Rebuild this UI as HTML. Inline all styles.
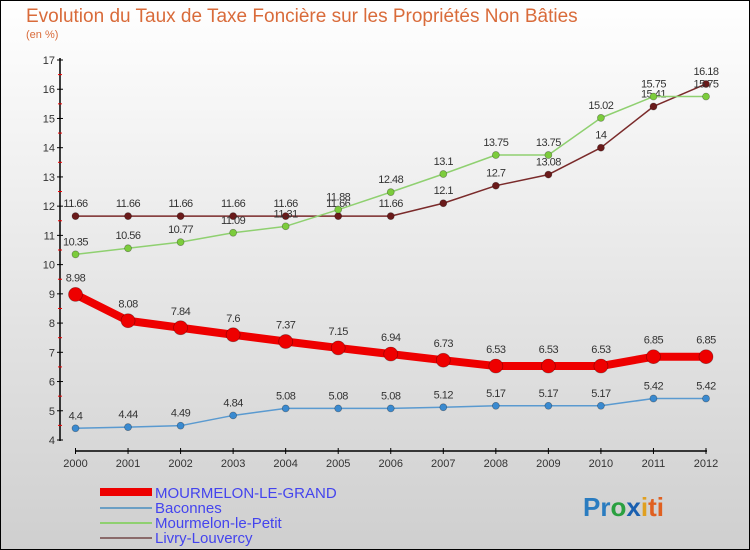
<!DOCTYPE html>
<html><head><meta charset="utf-8"><style>
body{margin:0}
svg{display:block;font-family:"Liberation Sans",sans-serif}
</style></head><body>
<svg width="750" height="550">
<defs><linearGradient id="bg" x1="0" y1="0" x2="0" y2="1"><stop offset="0" stop-color="#ffffff"/><stop offset="1" stop-color="#cfcfcf"/></linearGradient></defs>
<rect x="0.5" y="0.5" width="749" height="549" fill="url(#bg)" stroke="#000"/>
<text x="26" y="22" font-size="19" fill="#d96b3a">Evolution du Taux de Taxe Foncière sur les Propriétés Non Bâties</text>
<text x="26" y="38" font-size="11" fill="#d96b3a">(en %)</text>
<g id="axes"></g><g id="series"></g>
<g>
<rect x="100" y="488" width="52" height="8" fill="#e00"/>
<text x="155" y="498" font-size="15" fill="#4444ee">MOURMELON-LE-GRAND</text>
<rect x="100" y="507" width="52" height="2" fill="#6b9fc4"/>
<text x="155" y="513" font-size="15" fill="#4444ee">Baconnes</text>
<rect x="100" y="522" width="52" height="2" fill="#8fd070"/>
<text x="155" y="528" font-size="15" fill="#4444ee">Mourmelon-le-Petit</text>
<rect x="100" y="537" width="52" height="2" fill="#8a6a6a"/>
<text x="155" y="543" font-size="15" fill="#4444ee">Livry-Louvercy</text>
</g>
<text x="583" y="516" font-size="26" font-weight="bold"><tspan fill="#2a7cc0">Pr</tspan><tspan fill="#2aa040">o</tspan><tspan fill="#1a60b0">x</tspan><tspan fill="#e0a020">i</tspan><tspan fill="#e06020">ti</tspan></text>
</svg>
<script>
const years=[2000,2001,2002,2003,2004,2005,2006,2007,2008,2009,2010,2011,2012];
const yTicks=[4,5,6,7,8,9,10,11,12,13,14,15,16,17];
const grand=[8.98,8.08,7.84,7.6,7.37,7.15,6.94,6.73,6.53,6.53,6.53,6.85,6.85];
const baconnes=[4.4,4.44,4.49,4.84,5.08,5.08,5.08,5.12,5.17,5.17,5.17,5.42,5.42];
const petit=[10.35,10.56,10.77,11.09,11.31,11.88,12.48,13.1,13.75,13.75,15.02,15.75,15.75];
const livry=[11.66,11.66,11.66,11.66,11.66,11.66,11.66,12.1,12.7,13.08,14,15.41,16.18];
const NS="http://www.w3.org/2000/svg";
const X=i=>75.5+i*(706-75.5)/(years.length-1);
const Y=v=>440-(v-4)*(380/13);
function mk(t,a,p){const e=document.createElementNS(NS,t);for(const k in a)e.setAttribute(k,a[k]);p.appendChild(e);return e;}
const ax=document.getElementById('axes');
mk('line',{x1:60,y1:58,x2:60,y2:441,stroke:'#000','stroke-width':1.5},ax);
mk('line',{x1:75,y1:451,x2:707,y2:451,stroke:'#000','stroke-width':1.5},ax);
yTicks.forEach(v=>{
 mk('line',{x1:57,y1:Y(v),x2:63,y2:Y(v),stroke:'#000'},ax);
 if(v<17) mk('line',{x1:58,y1:Y(v+0.5),x2:62,y2:Y(v+0.5),stroke:'#e00'},ax);
 const t=mk('text',{x:55,y:Y(v)+4,'font-size':11,'text-anchor':'end',fill:'#333'},ax);t.textContent=v;
 
 
});
years.forEach((y,i)=>{
 mk('line',{x1:X(i),y1:448,x2:X(i),y2:454,stroke:'#000'},ax);
 const t=mk('text',{x:X(i),y:467,'font-size':11,'text-anchor':'middle',fill:'#333'},ax);t.textContent=y;
 
 
});
const sg=document.getElementById('series');
function series(d,color,dot,w,r,name,dy){
 const g=mk('g',{},sg);
 
 
 mk('polyline',{points:d.map((v,i)=>X(i)+','+Y(v)).join(' '),fill:'none',stroke:color,'stroke-width':w,'stroke-linejoin':'round'},g);
 d.forEach((v,i)=>{
  const c=mk('circle',{cx:X(i),cy:Y(v),r:r,fill:dot,stroke:'rgba(0,0,0,0.35)','stroke-width':0.7},g);
  
  
  const t=mk('text',{x:X(i),y:Y(v)-dy,'font-size':11,'text-anchor':'middle',fill:'#333','letter-spacing':'-0.5'},g);t.textContent=v;
  
  
 });
}
series(livry,'#7a2a2a','#6a1a1a',1.5,3.5,'livry-line',9);
series(petit,'#8fd070','#7ccc3c',1.5,3.5,'petit-line',9);
series(baconnes,'#5a9ad0','#3a8ad0',1.5,3.5,'baconnes-line',9);
series(grand,'#ee0000','#ee0000',8,7,'grand-line',13);
</script>
</body></html>
